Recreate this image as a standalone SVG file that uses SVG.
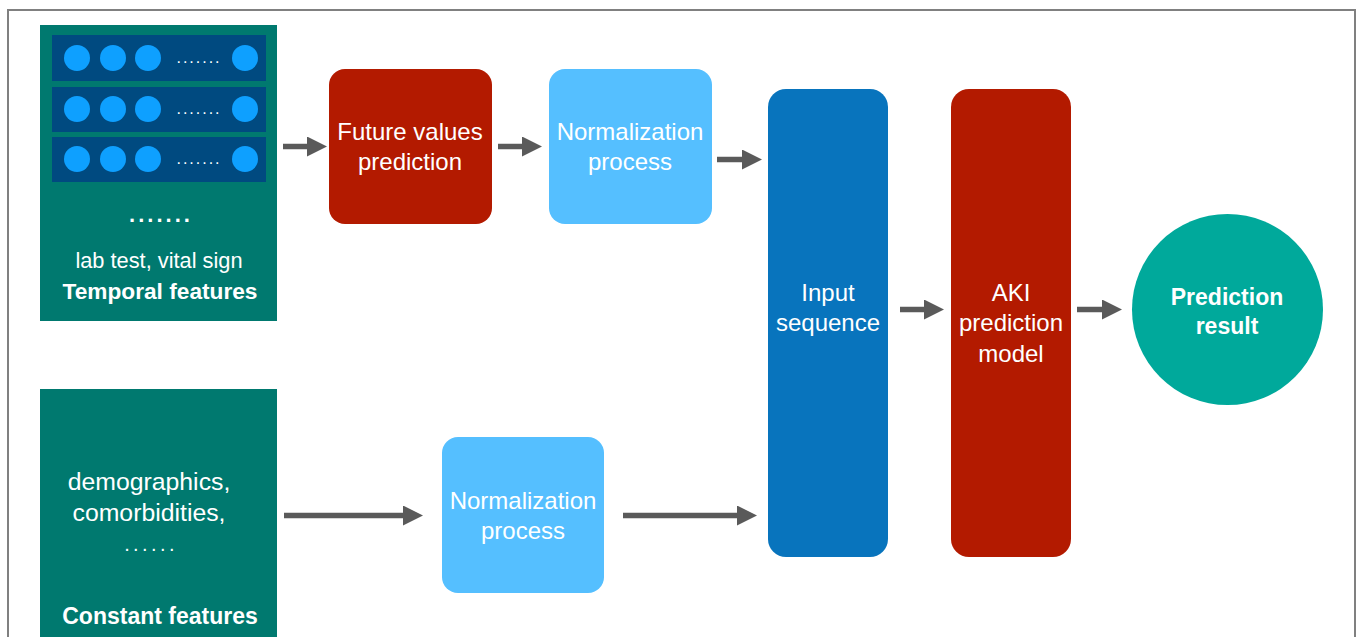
<svg xmlns="http://www.w3.org/2000/svg" width="1358" height="637" viewBox="0 0 1358 637">
<defs>
<style>
.t{font-family:"Liberation Sans",Arial,sans-serif;fill:#ffffff;text-anchor:middle}
.b{font-weight:bold}
.conn{stroke:#5a5a5a;stroke-width:5.5;fill:none}
.row{fill:#004a80}
.dot{fill:#0ea0ff}
</style>
<marker id="ah" viewBox="0 0 20 20" refX="0" refY="10" markerWidth="20" markerHeight="20" markerUnits="userSpaceOnUse" orient="auto">
<path d="M0,0 L20,10 L0,20 Z" fill="#5a5a5a"/>
</marker>
</defs>
<rect width="1358" height="637" fill="#ffffff"/>
<rect x="8" y="10" width="1347" height="640" fill="none" stroke="#808080" stroke-width="2"/>

<g id="temporal">
<rect x="40" y="25" width="237" height="296" fill="#00796f"/>
<rect class="row" x="52" y="35" width="214" height="46"/>
<rect class="row" x="52" y="87" width="214" height="45"/>
<rect class="row" x="52" y="137" width="214" height="45"/>
<circle class="dot" cx="77" cy="58" r="13"/><circle class="dot" cx="113" cy="58" r="13"/><circle class="dot" cx="148" cy="58" r="13"/><circle class="dot" cx="245" cy="58" r="13"/>
<circle class="dot" cx="77" cy="109" r="13"/><circle class="dot" cx="113" cy="109" r="13"/><circle class="dot" cx="148" cy="109" r="13"/><circle class="dot" cx="245" cy="109" r="13"/>
<circle class="dot" cx="77" cy="159" r="13"/><circle class="dot" cx="113" cy="159" r="13"/><circle class="dot" cx="148" cy="159" r="13"/><circle class="dot" cx="245" cy="159" r="13"/>
<text class="t" x="199" y="63" font-size="16" letter-spacing="2">.......</text>
<text class="t" x="199" y="114" font-size="16" letter-spacing="2">.......</text>
<text class="t" x="199" y="164" font-size="16" letter-spacing="2">.......</text>
<text class="t b" x="161" y="222" font-size="22" letter-spacing="3">.......</text>
<text class="t" x="159" y="268" font-size="21.8">lab test, vital sign</text>
<text class="t b" x="160" y="299" font-size="22.7">Temporal features</text>
</g>

<g id="constant">
<rect x="40" y="389" width="237" height="260" fill="#00796f"/>
<text class="t" x="149" y="490" font-size="24.8">demographics,</text>
<text class="t" x="149" y="521" font-size="24.8">comorbidities,</text>
<text class="t" x="151" y="551" font-size="20" letter-spacing="3.4">......</text>
<text class="t b" x="160" y="624" font-size="23">Constant features</text>
</g>

<g id="future">
<rect x="329" y="69" width="163" height="155" rx="16" fill="#b31a00"/>
<text class="t" x="410" y="140" font-size="24">Future values</text>
<text class="t" x="410" y="170" font-size="24">prediction</text>
</g>

<g id="norm1">
<rect x="549" y="69" width="163" height="155" rx="16" fill="#55bfff"/>
<text class="t" x="630" y="140" font-size="24">Normalization</text>
<text class="t" x="630" y="170" font-size="24">process</text>
</g>

<g id="norm2">
<rect x="442" y="437" width="162" height="156" rx="16" fill="#55bfff"/>
<text class="t" x="523" y="509" font-size="24">Normalization</text>
<text class="t" x="523" y="539" font-size="24">process</text>
</g>

<g id="input">
<rect x="768" y="89" width="120" height="468" rx="18" fill="#0874bd"/>
<text class="t" x="828" y="301" font-size="24">Input</text>
<text class="t" x="828" y="331" font-size="24">sequence</text>
</g>

<g id="aki">
<rect x="951" y="89" width="120" height="468" rx="18" fill="#b31a00"/>
<text class="t" x="1011" y="301" font-size="24">AKI</text>
<text class="t" x="1011" y="331" font-size="24">prediction</text>
<text class="t" x="1011" y="362" font-size="24">model</text>
</g>

<g id="result">
<ellipse cx="1227.5" cy="309.5" rx="95.5" ry="95.5" fill="#00a99b"/>
<text class="t b" x="1227" y="305" font-size="23">Prediction</text>
<text class="t b" x="1227" y="334" font-size="23">result</text>
</g>

<g id="connectors">
<line class="conn" x1="283" y1="146.5" x2="307" y2="146.5" marker-end="url(#ah)"/>
<line class="conn" x1="498" y1="146.5" x2="522" y2="146.5" marker-end="url(#ah)"/>
<line class="conn" x1="717" y1="159.5" x2="742" y2="159.5" marker-end="url(#ah)"/>
<line class="conn" x1="900" y1="309.5" x2="924" y2="309.5" marker-end="url(#ah)"/>
<line class="conn" x1="1077" y1="309.5" x2="1102" y2="309.5" marker-end="url(#ah)"/>
<line class="conn" x1="284" y1="515.5" x2="403" y2="515.5" marker-end="url(#ah)"/>
<line class="conn" x1="623" y1="515.5" x2="737" y2="515.5" marker-end="url(#ah)"/>
</g>
</svg>
